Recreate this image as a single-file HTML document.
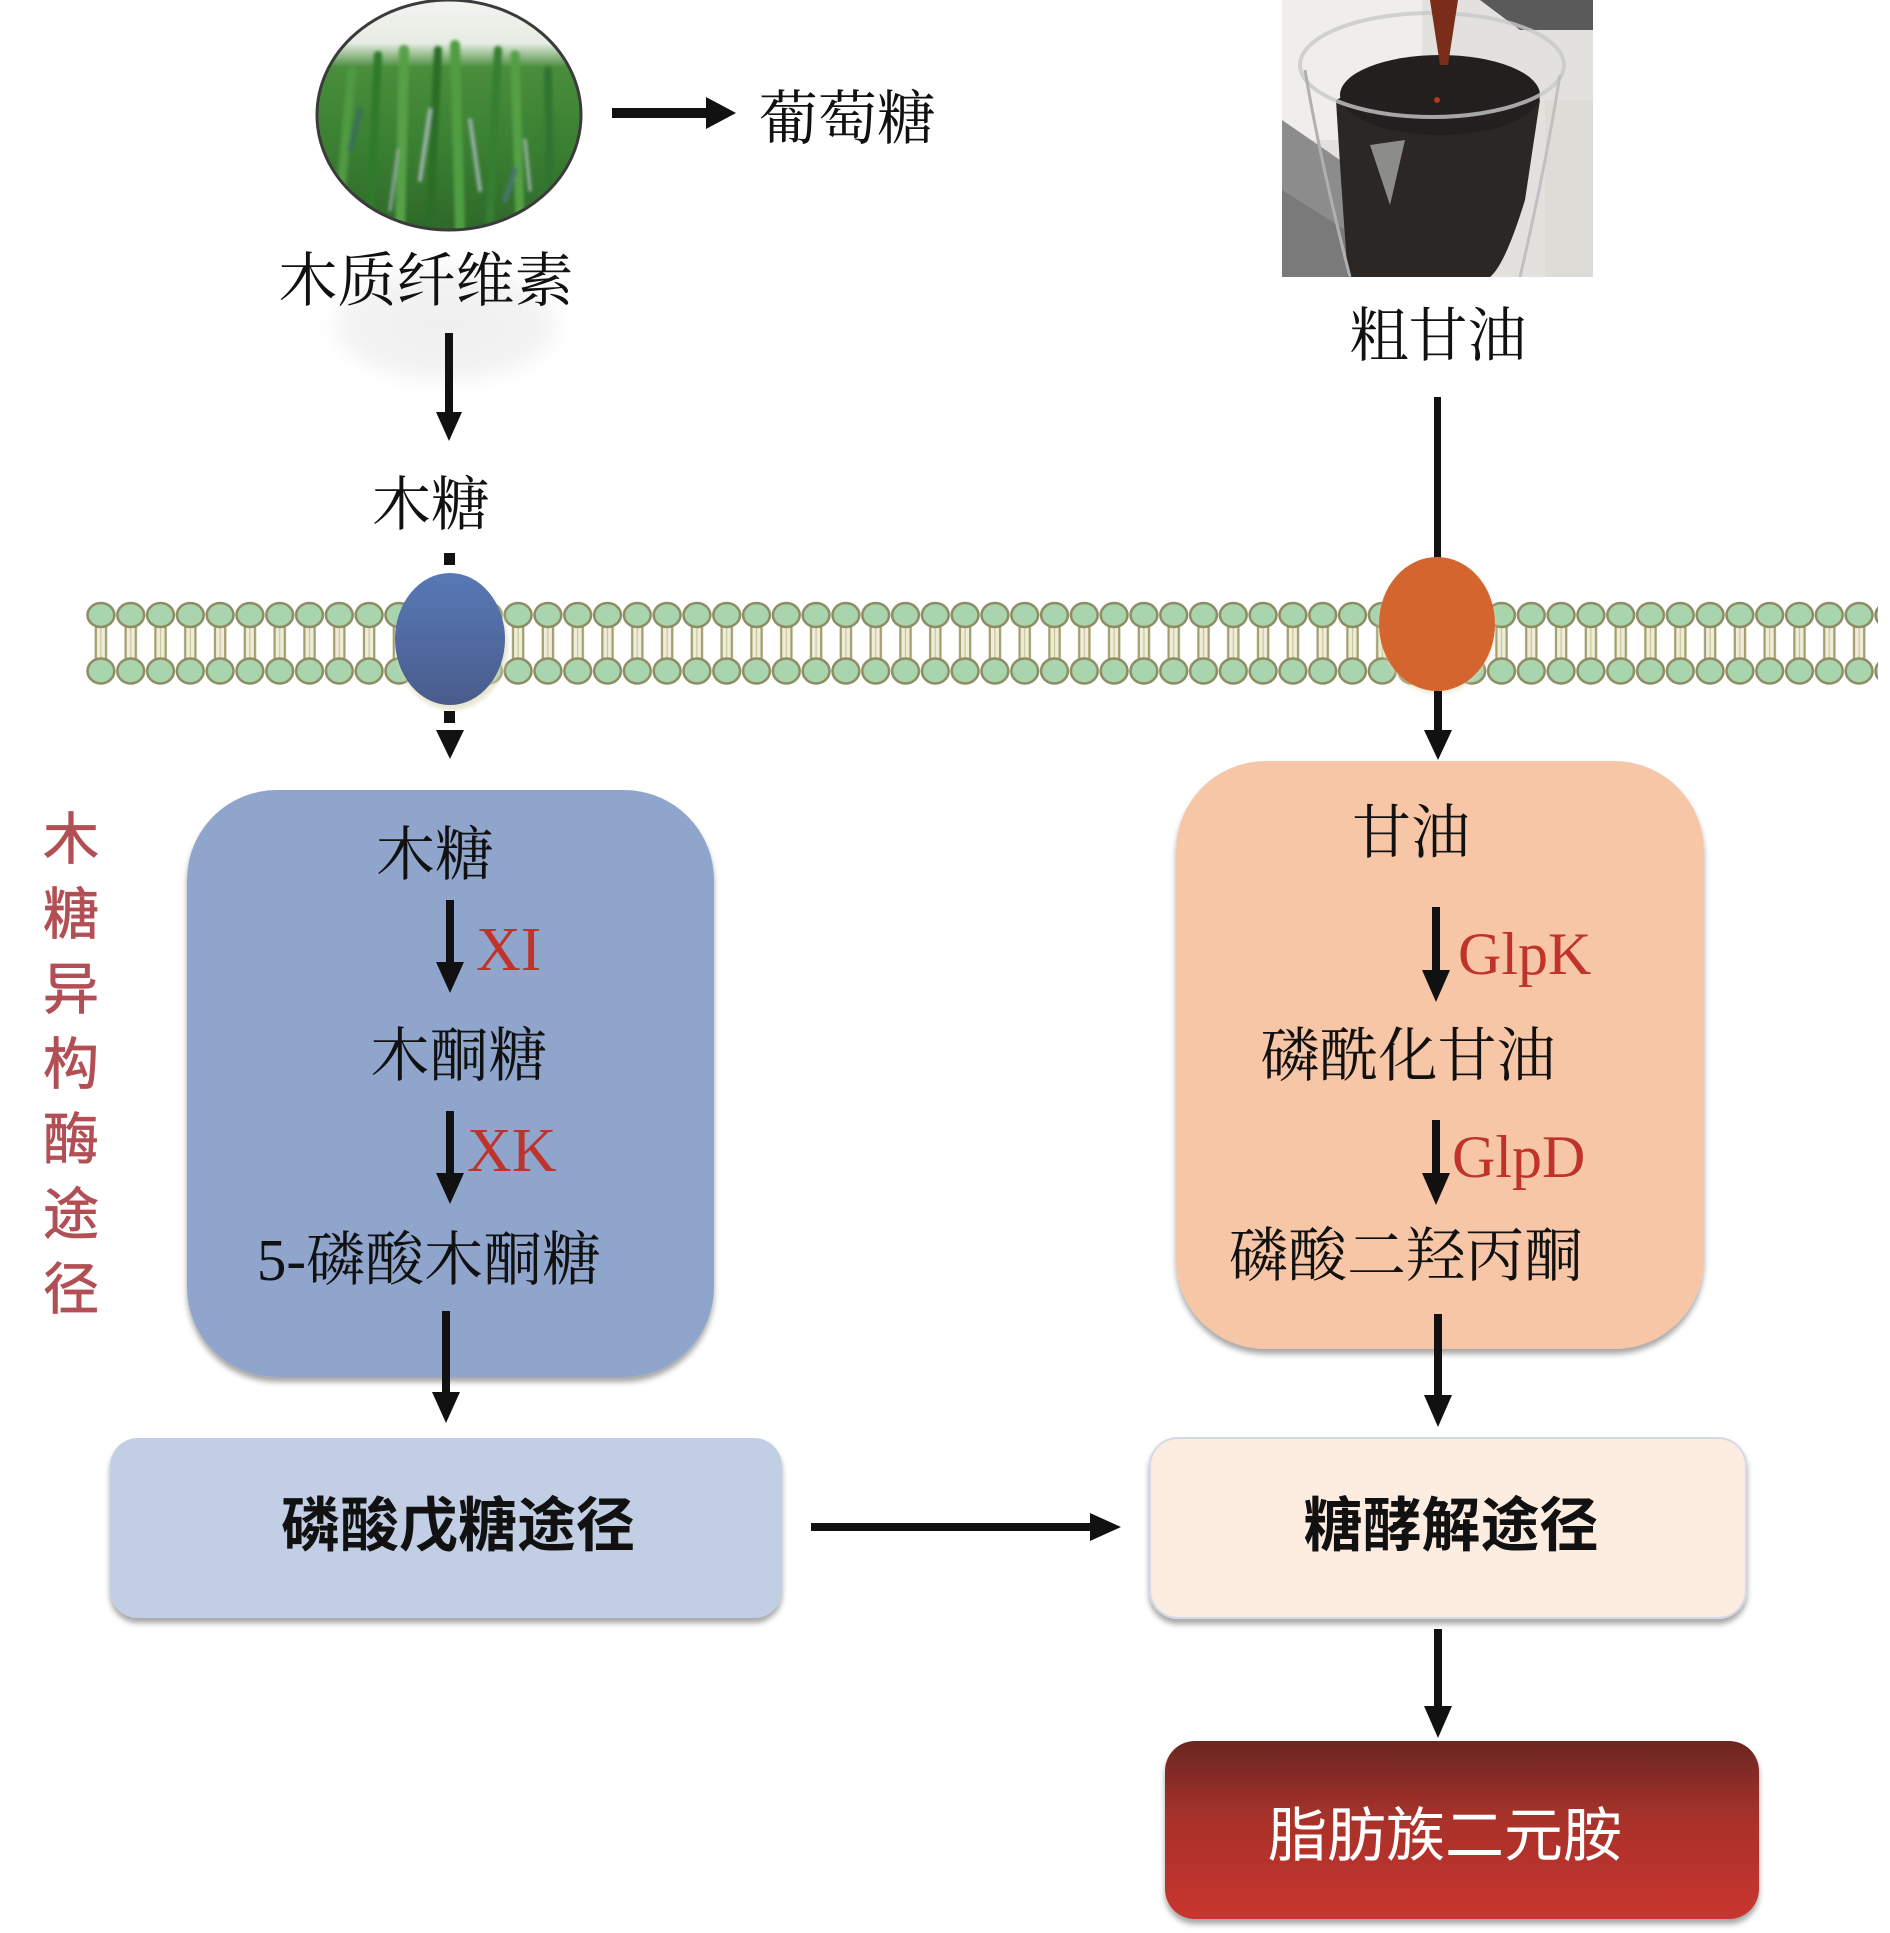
<!DOCTYPE html>
<html><head><meta charset="utf-8">
<style>
html,body{margin:0;padding:0;background:#fff;}
svg{display:block;}
.s{font-family:"Liberation Serif","Noto Serif CJK SC",serif;font-size:59px;fill:#111;}
.b{font-family:"Liberation Sans","Noto Sans CJK SC",sans-serif;font-size:59px;font-weight:bold;fill:#111;}
.w{font-family:"Liberation Sans","Noto Sans CJK SC",sans-serif;font-size:59px;fill:#fff;}
.r{font-family:"Liberation Serif",serif;font-size:62px;fill:#c0332b;}
.v{font-family:"Liberation Sans","Noto Sans CJK SC",sans-serif;font-size:56px;fill:#b24f55;stroke:#b24f55;stroke-width:0.8;}
</style></head><body>
<svg width="1890" height="1933" viewBox="0 0 1890 1933" xmlns="http://www.w3.org/2000/svg">
<defs>
  <pattern id="mem" patternUnits="userSpaceOnUse" x="86" y="601" width="29.8" height="86">
    <rect x="8.5" y="24" width="13" height="38" fill="#efedd9"/>
    <line x1="9.8" y1="24" x2="9.8" y2="62" stroke="#a29e70" stroke-width="2.2"/>
    <line x1="20" y1="24" x2="20" y2="62" stroke="#a29e70" stroke-width="2.2"/>
    <line x1="14.9" y1="24" x2="14.9" y2="62" stroke="#c9c59c" stroke-width="1.2"/>
    <ellipse cx="14.9" cy="14" rx="13.4" ry="12" fill="#a8d4ae" stroke="#8e8c62" stroke-width="2.5"/>
    <ellipse cx="14.9" cy="70" rx="13.4" ry="12.5" fill="#a8d4ae" stroke="#8e8c62" stroke-width="2.5"/>
  </pattern>
  <filter id="sh" x="-5%" y="-5%" width="110%" height="115%">
    <feDropShadow dx="0" dy="5" stdDeviation="3" flood-color="#000" flood-opacity="0.35"/>
  </filter>
  <filter id="blur8"><feGaussianBlur stdDeviation="8"/></filter>
  <filter id="blur2"><feGaussianBlur stdDeviation="2"/></filter>
  <filter id="blur1"><feGaussianBlur stdDeviation="1.5"/></filter>
  <linearGradient id="blueOval" x1="0" y1="0" x2="0" y2="1">
    <stop offset="0" stop-color="#5879b6"/><stop offset="1" stop-color="#495c8c"/>
  </linearGradient>
  <linearGradient id="redBox" x1="0" y1="0" x2="0" y2="1">
    <stop offset="0" stop-color="#6b2723"/><stop offset="0.45" stop-color="#a9322b"/><stop offset="1" stop-color="#c8352f"/>
  </linearGradient>
  <linearGradient id="grass" x1="0" y1="0" x2="0" y2="1">
    <stop offset="0" stop-color="#f2f4f0"/><stop offset="0.18" stop-color="#e6ece3"/>
    <stop offset="0.28" stop-color="#4a8e3c"/><stop offset="0.6" stop-color="#3a8032"/>
    <stop offset="1" stop-color="#2e6629"/>
  </linearGradient>
  <clipPath id="gclip"><ellipse cx="449" cy="115" rx="132" ry="115"/></clipPath>
  <clipPath id="bclip"><rect x="1282" y="0" width="311" height="277"/></clipPath>
  <radialGradient id="fade" cx="0.5" cy="0.5" r="0.5">
    <stop offset="0" stop-color="#f0f0f0"/><stop offset="0.8" stop-color="#f3f3f3"/><stop offset="1" stop-color="#fff"/>
  </radialGradient>
</defs>

<!-- grass image -->
<g clip-path="url(#gclip)">
  <rect x="310" y="0" width="280" height="240" fill="url(#grass)"/>
  <g stroke-linecap="round" fill="none" filter="url(#blur1)">
    <path d="M340 200 L352 70" stroke="#4f9a42" stroke-width="9"/>
    <path d="M370 220 L378 55" stroke="#2f7a2c" stroke-width="8"/>
    <path d="M400 230 L404 50" stroke="#56a046" stroke-width="10"/>
    <path d="M430 220 L438 50" stroke="#2a6d27" stroke-width="8"/>
    <path d="M460 230 L455 45" stroke="#4f9e42" stroke-width="10"/>
    <path d="M490 220 L498 50" stroke="#347f30" stroke-width="8"/>
    <path d="M520 220 L515 55" stroke="#54a044" stroke-width="9"/>
    <path d="M550 200 L548 70" stroke="#2f7530" stroke-width="8"/>
    <path d="M420 180 L430 110" stroke="#9fb5ad" stroke-width="4"/>
    <path d="M480 190 L470 120" stroke="#98b0a8" stroke-width="4"/>
    <path d="M390 210 L398 150" stroke="#8fa8a0" stroke-width="3"/>
    <path d="M530 190 L525 140" stroke="#a0b5ad" stroke-width="3"/>
    <path d="M350 150 L360 110" stroke="#3a6e5a" stroke-width="5"/>
    <path d="M505 200 L515 170" stroke="#4a7570" stroke-width="5"/>
  </g>
</g>
<ellipse cx="449" cy="115" rx="132" ry="115" fill="none" stroke="#3b3b3b" stroke-width="3"/>

<!-- faint shadow under label -->
<ellipse cx="446" cy="325" rx="122" ry="62" fill="url(#fade)" filter="url(#blur8)"/>

<!-- beaker photo -->
<g clip-path="url(#bclip)">
  <rect x="1282" y="0" width="311" height="277" fill="#e2e1dd"/>
  <rect x="1282" y="0" width="140" height="140" fill="#f0eeea"/>
  <path d="M1282 120 L1340 160 L1370 277 L1282 277 Z" fill="#8c8c8c"/>
  <path d="M1282 190 L1420 277 L1282 277 Z" fill="#7a7a7a"/>
  <path d="M1480 0 L1593 0 L1593 30 L1520 30 Z" fill="#5a5a5a"/>
  <rect x="1545" y="100" width="48" height="177" fill="#dedcd6"/>
  <!-- liquid -->
  <path d="M1336 100 Q1440 45 1540 100 L1525 200 Q1505 265 1490 277 L1348 277 Q1342 200 1336 100 Z" fill="#2b2725"/>
  <ellipse cx="1440" cy="95" rx="100" ry="40" fill="#231f1e"/>
  <!-- glass rim -->
  <ellipse cx="1432" cy="65" rx="132" ry="52" fill="none" stroke="#c8c8c8" stroke-width="4" opacity="0.8"/>
  <path d="M1305 70 Q1320 160 1350 277" stroke="#b0b0b0" stroke-width="3" fill="none"/>
  <path d="M1560 75 Q1545 170 1520 277" stroke="#c0c0c0" stroke-width="3" fill="none"/>
  <path d="M1370 145 L1405 140 L1390 205 Z" fill="#8c8c8a"/>
  <!-- pour stream -->
  <path d="M1430 0 L1458 0 L1448 65 L1440 65 Z" fill="#7a2e1a"/>
  <circle cx="1437" cy="100" r="3" fill="#b03a1a"/>
</g>

<!-- text top -->
<text class="s" x="759" y="139">葡萄糖</text>
<text class="s" x="426" y="301" text-anchor="middle">木质纤维素</text>
<text class="s" x="431" y="525" text-anchor="middle">木糖</text>
<text class="s" x="1438" y="356" text-anchor="middle">粗甘油</text>

<!-- top arrows -->
<g fill="#111" stroke="none">
  <rect x="612" y="108" width="98" height="10"/>
  <polygon points="706,97 736,113 706,129"/>
  <rect x="445" y="333" width="8" height="84"/>
  <polygon points="436,412 462,412 449,441"/>
  <rect x="1434" y="397" width="7" height="170"/>
  <rect x="444" y="553" width="11" height="12"/>
</g>

<!-- membrane -->
<rect x="86" y="601" width="1792" height="86" fill="url(#mem)"/>

<!-- transporters -->
<ellipse cx="452" cy="644" rx="56" ry="66" fill="#d8d6b0" opacity="0.6" filter="url(#blur2)"/>
<ellipse cx="450" cy="639" rx="55" ry="66" fill="url(#blueOval)"/>
<ellipse cx="1437" cy="627" rx="59" ry="67" fill="#d8d6b0" opacity="0.5" filter="url(#blur2)"/>
<ellipse cx="1437" cy="624" rx="58" ry="67" fill="#d4652f"/>

<!-- arrows below membrane -->
<g fill="#111">
  <rect x="444" y="711" width="11" height="12"/>
  <polygon points="436,730 464,730 450,759"/>
  <rect x="1434" y="691" width="8" height="42"/>
  <polygon points="1424,730 1452,730 1438,760"/>
</g>

<!-- blue box -->
<rect x="187" y="790" width="527" height="587" rx="90" ry="90" fill="#8fa5cc" filter="url(#sh)"/>
<!-- orange box -->
<rect x="1176" y="761" width="528" height="588" rx="90" ry="90" fill="#f7c6a6" filter="url(#sh)"/>

<!-- left vertical label -->
<g class="v" text-anchor="middle">
  <text x="71" y="859">木</text>
  <text x="71" y="934">糖</text>
  <text x="71" y="1009">异</text>
  <text x="71" y="1084">构</text>
  <text x="71" y="1159">酶</text>
  <text x="71" y="1234">途</text>
  <text x="71" y="1309">径</text>
</g>

<!-- blue box content -->
<text class="s" x="435" y="875" text-anchor="middle">木糖</text>
<text class="s" x="459" y="1076" text-anchor="middle">木酮糖</text>
<text class="s" x="429" y="1280" text-anchor="middle">5-磷酸木酮糖</text>
<text class="r" x="476" y="970">XI</text>
<text class="r" x="467" y="1171">XK</text>

<!-- orange box content -->
<text class="s" x="1411" y="853" text-anchor="middle">甘油</text>
<text class="s" x="1408" y="1076" text-anchor="middle">磷酰化甘油</text>
<text class="s" x="1406" y="1276" text-anchor="middle">磷酸二羟丙酮</text>
<text class="r" x="1458" y="974" style="font-size:60px">GlpK</text>
<text class="r" x="1452" y="1177" style="font-size:60px">GlpD</text>

<!-- arrows inside boxes and below -->
<g fill="#111">
  <rect x="446" y="900" width="8" height="66"/>
  <polygon points="436,962 464,962 450,993"/>
  <rect x="446" y="1111" width="8" height="66"/>
  <polygon points="436,1173 464,1173 450,1204"/>
  <rect x="1432" y="907" width="8" height="66"/>
  <polygon points="1422,970 1450,970 1436,1002"/>
  <rect x="1432" y="1120" width="8" height="56"/>
  <polygon points="1422,1173 1450,1173 1436,1205"/>
  <rect x="442" y="1311" width="8" height="84"/>
  <polygon points="432,1392 460,1392 446,1423"/>
  <rect x="1434" y="1314" width="8" height="84"/>
  <polygon points="1424,1395 1452,1395 1438,1427"/>
  <rect x="811" y="1523" width="282" height="8"/>
  <polygon points="1090,1513 1121,1527 1090,1541"/>
  <rect x="1434" y="1629" width="8" height="80"/>
  <polygon points="1424,1706 1452,1706 1438,1738"/>
</g>

<!-- bottom boxes -->
<rect x="110" y="1438" width="672" height="180" rx="28" ry="28" fill="#c1cee4" filter="url(#sh)"/>
<text class="b" x="458" y="1546" text-anchor="middle">磷酸戊糖途径</text>

<rect x="1150" y="1438" width="596" height="180" rx="28" ry="28" fill="#fdece0" stroke="#d3d9e6" stroke-width="2" filter="url(#sh)"/>
<text class="b" x="1451" y="1546" text-anchor="middle">糖酵解途径</text>

<rect x="1165" y="1741" width="594" height="178" rx="30" ry="30" fill="url(#redBox)" filter="url(#sh)"/>
<text class="w" x="1445" y="1856" text-anchor="middle">脂肪族二元胺</text>
</svg>
</body></html>
